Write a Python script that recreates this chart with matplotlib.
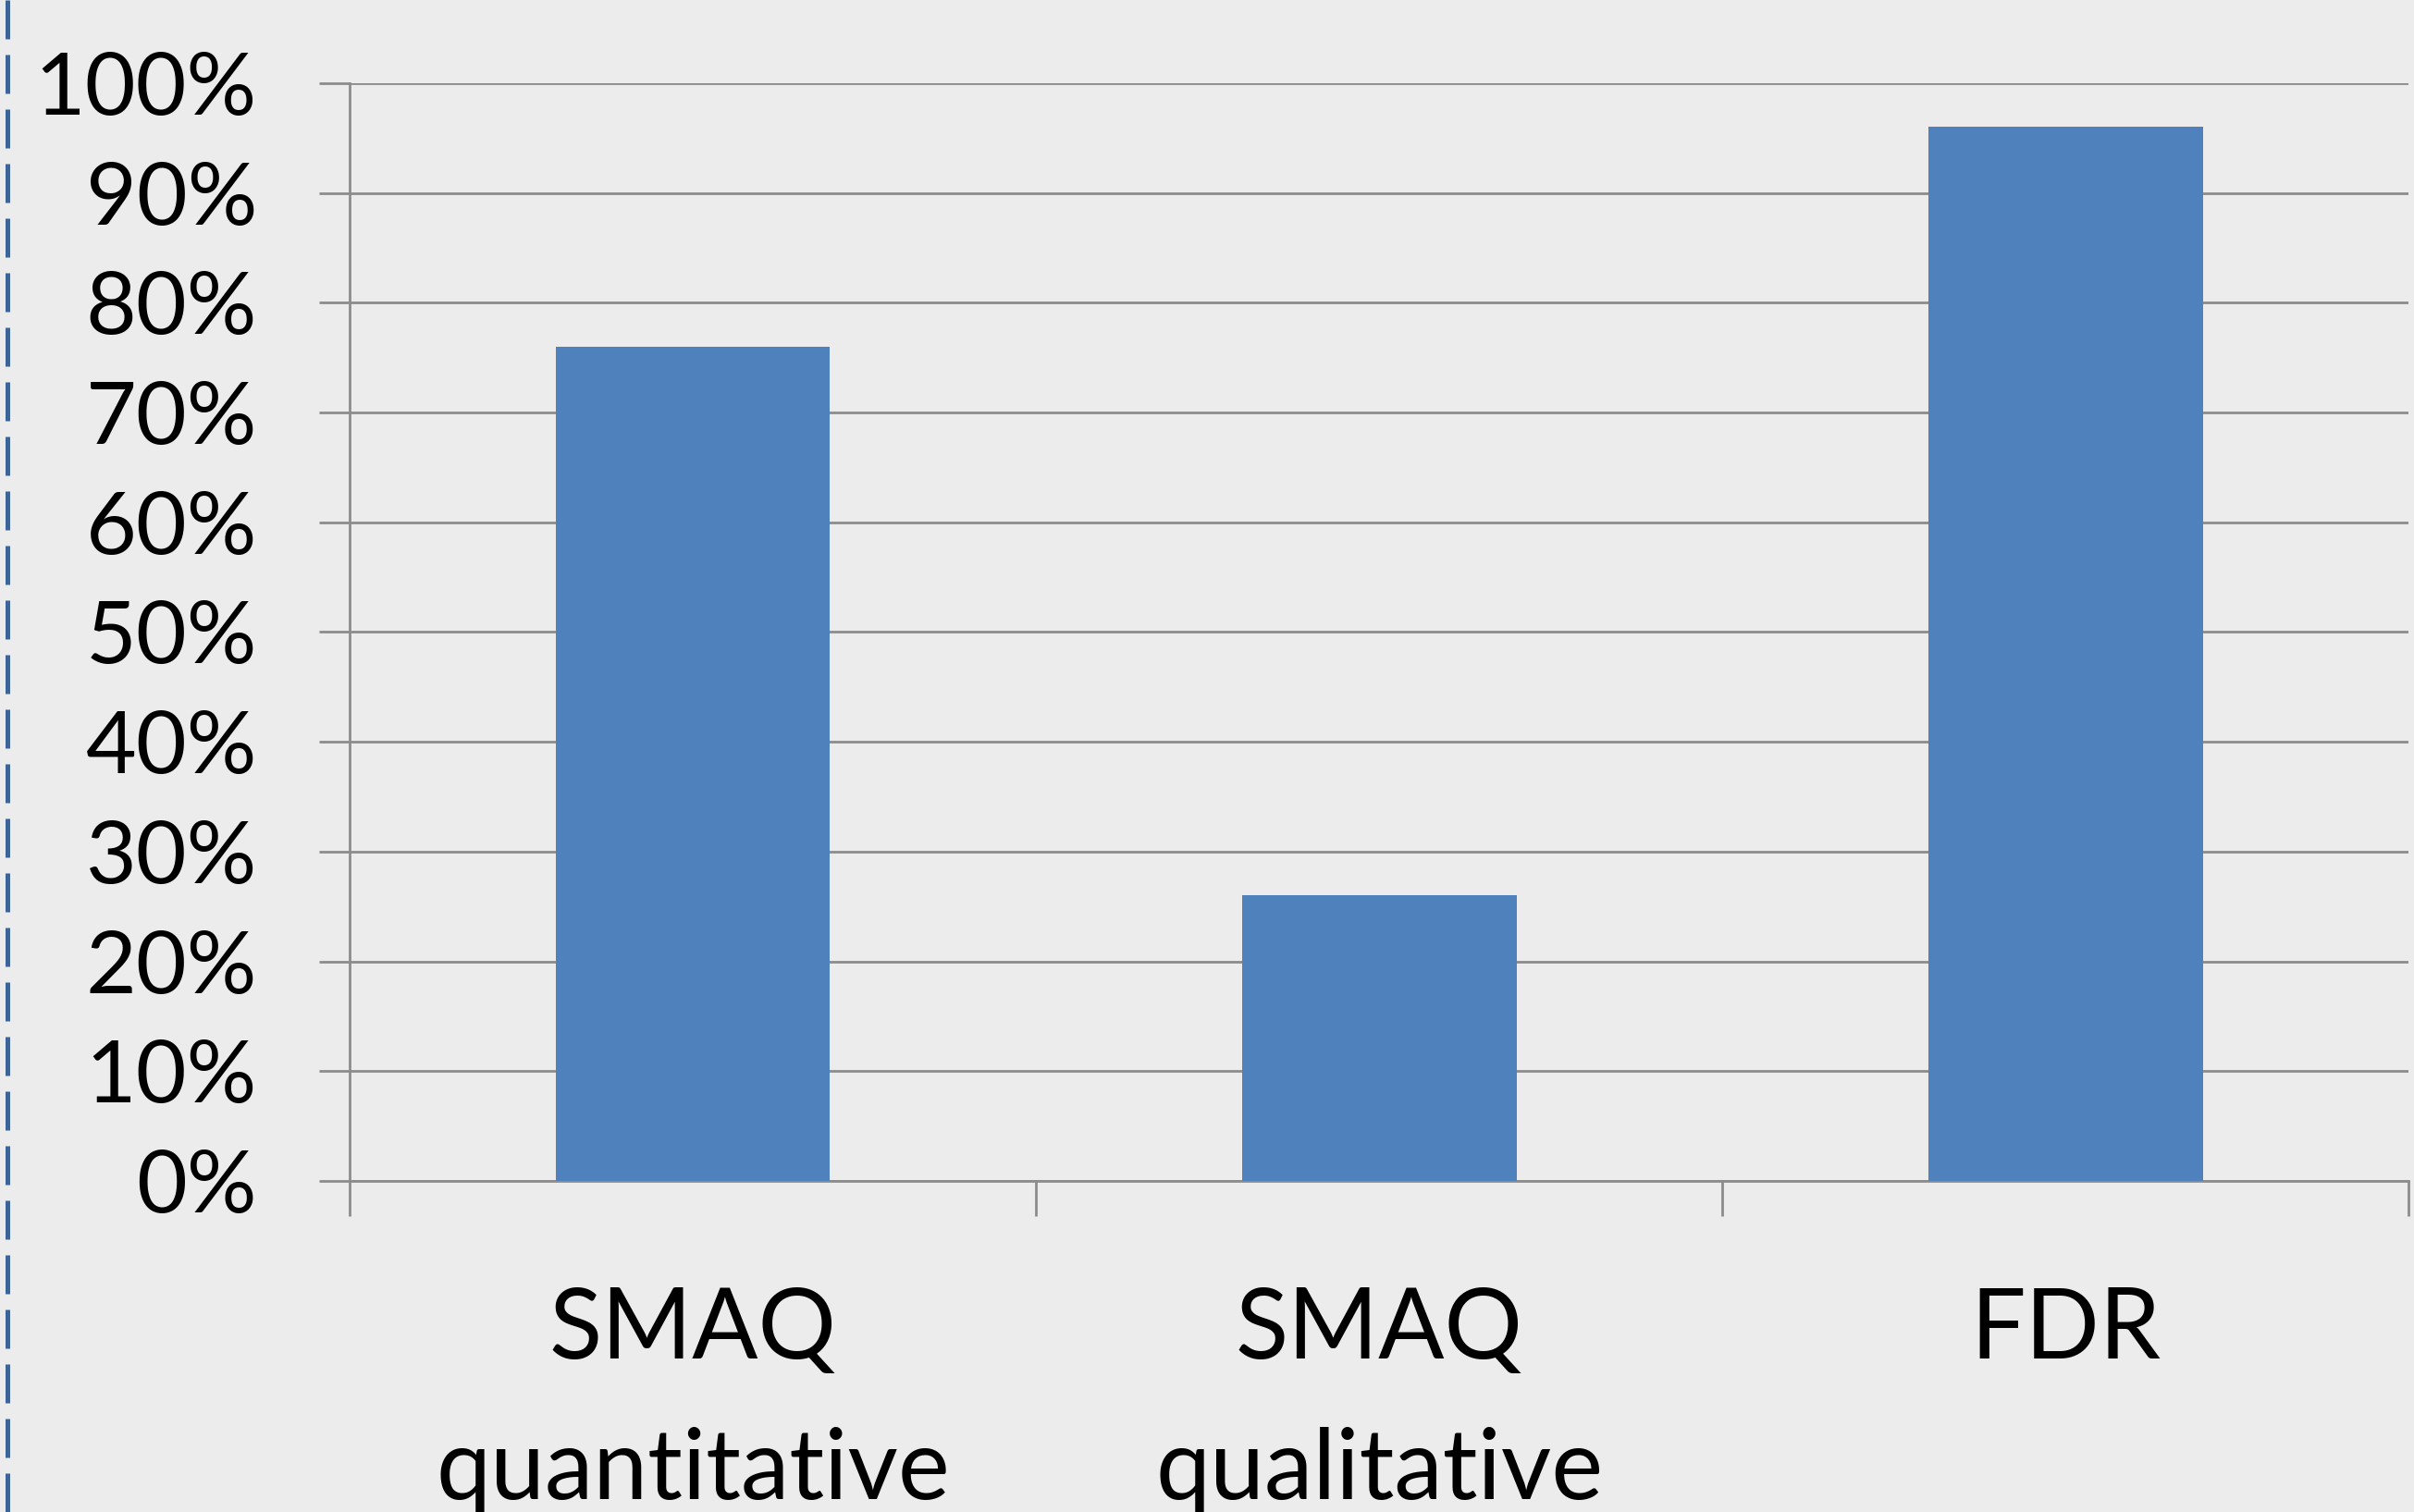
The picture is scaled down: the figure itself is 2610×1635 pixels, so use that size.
import numpy as np
import matplotlib
matplotlib.use("Agg")
import matplotlib.pyplot as plt
from matplotlib.lines import Line2D
from matplotlib.ticker import FixedLocator, PercentFormatter

# survey scores per instrument
categories = ["SMAQ\nquantitative", "SMAQ\nqualitative", "FDR"]
values = [76, 26, 96]
y_ticks = [0, 10, 20, 30, 40, 50, 60, 70, 80, 90, 100]

bg = "#ECECEC"
bar_color = "#4F81BD"
grid_color = "#8C8C8C"

plt.rcParams["font.family"] = ["Lato", "DejaVu Sans"]

fig = plt.figure(figsize=(26.1, 16.35), dpi=100, facecolor=bg)
ax = fig.add_axes([0.1448, 0.219, 0.853, 0.726], facecolor=bg)

x = np.arange(len(categories))
ax.bar(x, values, width=0.4, color=bar_color, zorder=3)

ax.set_ylim(0, 100)
ax.set_xlim(-0.5, len(categories) - 0.5)
ax.set_yticks(y_ticks)
ax.yaxis.set_major_formatter(PercentFormatter(decimals=0))
ax.yaxis.grid(True, color=grid_color, linewidth=2, zorder=1)
ax.tick_params(axis="y", length=24, width=2, color=grid_color, pad=48,
               labelsize=68, labelcolor="black")

# category labels at bar centres, boundary ticks between them
ax.set_xticks(x)
ax.set_xticklabels(categories, fontsize=76, linespacing=1.72)
ax.tick_params(axis="x", which="major", length=0, pad=82)
ax.xaxis.set_minor_locator(FixedLocator(np.arange(-0.5, len(categories), 1.0)))
ax.tick_params(axis="x", which="minor", length=27, width=2, color=grid_color)
for lbl in ax.get_xticklabels():
    lbl.set_verticalalignment("top")

for side in ["top", "right"]:
    ax.spines[side].set_visible(False)
for side in ["left", "bottom"]:
    ax.spines[side].set_color(grid_color)
    ax.spines[side].set_linewidth(2)

# dashed rule down the left edge
fig.add_artist(Line2D([0.0031, 0.0031], [0, 1], transform=fig.transFigure,
                      color="#3D6496", linewidth=3.6, linestyle=(0, (8.4, 3.4))))

fig.savefig("out.png", dpi=100, facecolor=bg)
